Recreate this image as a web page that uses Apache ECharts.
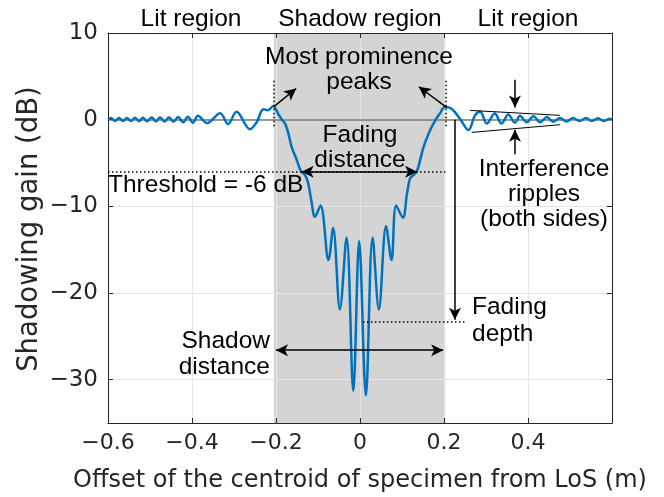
<!DOCTYPE html>
<html><head><meta charset="utf-8">
<script src="https://cdn.jsdelivr.net/npm/echarts@6/dist/echarts.min.js"></script>
<style>html,body{margin:0;padding:0;background:#fff}#c{width:664px;height:497px}</style>
</head><body><div id="c"></div>
<script>
// ---- data ----
const offsetX = [
 -0.600,-0.593,-0.583,-0.574,-0.564,-0.555,-0.545,-0.536,-0.526,-0.517,-0.507,-0.496,-0.486,-0.476,-0.465,-0.455,-0.444,-0.433,-0.421,-0.410,-0.398,-0.386,-0.364,-0.333,-0.314,-0.294,-0.262,-0.246,-0.230,-0.219,-0.207,
 -0.194,-0.186,-0.179,-0.171,-0.163,-0.151,-0.141,-0.131,-0.124,-0.117,-0.107,-0.094,-0.075,-0.064,-0.048,-0.032,-0.016,-0.002,0.014,0.030,0.045,0.062,0.075,0.086,0.102,0.112,0.119,0.127,0.136,0.151,0.167,0.179,0.190,0.202,
 0.218,0.238,0.258,0.274,0.286,0.302,0.321,0.337,0.353,0.369,0.381,0.397,0.413,0.429,0.445,0.460,0.476,0.492,0.507,0.523,0.538,0.552,0.567,0.581,0.595,0.600];
const gainDb = [
 0.05,0.20,-0.15,0.20,-0.15,0.20,-0.16,0.21,-0.17,0.22,-0.18,0.24,-0.20,0.25,-0.22,0.28,-0.25,0.30,-0.30,0.35,-0.35,0.45,-0.40,0.75,-0.50,0.90,-1.10,-0.30,1.20,1.10,1.55,
 0.60,0.00,-0.40,-1.50,-3.10,-4.60,-5.90,-6.40,-7.20,-9.00,-11.2,-9.90,-16.2,-12.5,-21.9,-13.6,-31.3,-14.0,-31.8,-13.6,-21.9,-12.3,-16.2,-9.90,-11.3,-8.50,-6.80,-6.40,-5.90,-3.20,-1.20,-0.10,0.70,1.45,
 1.25,0.10,-1.20,0.50,0.90,-0.45,0.70,-0.45,0.60,-0.35,0.45,-0.30,0.40,-0.30,0.30,-0.25,0.20,-0.20,0.20,-0.15,0.18,-0.15,0.15,-0.15,0.12,0.05];
const xRange = [-0.6, 0.6];
const xStep = 0.2;
const yRange = [-35, 10];
const shadowRegion = [-0.205, 0.203];
const thresholdDb = -6;
const fadingDistance = [-0.139, 0.136];
const shadowDistance = [-0.200, 0.198];
const shadowDistanceY = -26.6;
const fadingDepthX = 0.226;
const fadingDepthY = -23.3;

const chart = echarts.init(document.getElementById('c'));
const AX = '#262626';
const TICKFONT = '"DejaVu Sans", sans-serif';
const ANN = '"Liberation Sans", Arial, sans-serif';
function fmtNum(v, d) {
  if (Math.abs(v) < 1e-9) return '0';
  return (v < 0 ? '\u2212' : '') + Math.abs(v).toFixed(d);
}
const curve = offsetX.map((x, i) => [x, gainDb[i]]);

const blk = {color: '#000', width: 1.5, type: 'solid'};
const dot = {color: '#000', width: 1.5, type: [1.5, 2.5]};
function seg(a, b, style, s0, s1) {
  return [
    {coord: a, symbol: s0 || 'none', symbolSize: [9, 12], lineStyle: Object.assign({}, style)},
    {coord: b, symbol: s1 || 'none', symbolSize: [9, 12]}
  ];
}

function txt(t, x, y, align, size) {
  return {type: 'text', z: 100, style: {text: t, x: x, y: y, fill: '#000',
    font: (size || 24.5) + 'px ' + ANN, align: align || 'center', verticalAlign: 'middle'}};
}
const axLine = () => ({show: true, onZero: false, lineStyle: {color: AX, width: 1}});
const axTick = () => ({show: true, inside: true, length: 5, lineStyle: {color: AX, width: 1}});
const gridOnly = () => ({axisLine: {show: false, onZero: false}, axisTick: {show: false},
  axisLabel: {show: false}, splitLine: {show: true, lineStyle: {color: '#e4e4e4', width: 1}}, z: 0});

chart.setOption({
  animation: false,
  grid: {left: 108, top: 33, width: 504, height: 390},
  xAxis: [{
    type: 'value', min: xRange[0], max: xRange[1], interval: xStep, position: 'bottom', z: 2,
    axisLine: axLine(), axisTick: axTick(),
    axisLabel: {fontSize: 22, color: AX, fontFamily: TICKFONT, margin: 9,
      formatter: v => (Math.abs(v - xRange[1]) < 1e-9 ? '' : fmtNum(v, 1))},
    splitLine: {show: false}
  }, {
    type: 'value', min: xRange[0], max: xRange[1], interval: xStep, position: 'top', z: 2,
    axisLine: axLine(), axisTick: axTick(),
    axisLabel: {show: false}, splitLine: {show: false}
  }, Object.assign({type: 'value', min: xRange[0], max: xRange[1], interval: xStep, position: 'bottom'}, gridOnly())],
  yAxis: [{
    type: 'value', min: yRange[0], max: yRange[1], splitNumber: 5, position: 'left', z: 2,
    axisLine: axLine(), axisTick: axTick(),
    axisLabel: {fontSize: 23, color: AX, fontFamily: TICKFONT, margin: 10,
      formatter: v => (v % 10 !== 0 ? '' : fmtNum(v, 0))},
    splitLine: {show: false}
  }, {
    type: 'value', min: yRange[0], max: yRange[1], splitNumber: 5, position: 'right', z: 2,
    axisLine: axLine(), axisTick: axTick(),
    axisLabel: {show: false}, splitLine: {show: false}
  }, Object.assign({type: 'value', min: yRange[0], max: yRange[1], splitNumber: 5, position: 'left'}, gridOnly())],
  series: [{
    type: 'line', data: [], silent: true,
    markArea: {silent: true, z: -1, itemStyle: {color: '#d4d4d4'},
      data: [[{xAxis: shadowRegion[0]}, {xAxis: shadowRegion[1]}]]},
    markLine: {silent: true, z: 1, symbol: ['none', 'none'], label: {show: false},
      lineStyle: {color: '#7a7a7a', width: 1.5, type: 'solid'},
      data: [{yAxis: 0}]}
  }, {
    type: 'line', data: curve, z: 3, showSymbol: false, smooth: 0.35, silent: true,
    lineStyle: {color: '#0072BD', width: 2.5}
  }, {
    type: 'line', data: [], silent: true,
    markLine: {silent: true, z: 5, label: {show: false}, symbol: ['none', 'none'],
      data: [
        seg([shadowRegion[0], 1.5], [-0.152, 3.6], blk, 'none', 'arrow'),
        seg([0.207, 1.4], [0.140, 3.8], blk, 'none', 'arrow'),
        seg([shadowRegion[0], 4.5], [shadowRegion[0], -0.8], dot),
        seg([shadowRegion[1], 4.5], [shadowRegion[1], -0.8], dot),
        seg([xRange[0], thresholdDb], [shadowRegion[1], thresholdDb], dot),
        seg([fadingDistance[0], thresholdDb], [fadingDistance[1], thresholdDb], blk, 'arrow', 'arrow'),
        seg([shadowDistance[0], shadowDistanceY], [shadowDistance[1], shadowDistanceY], blk, 'arrow', 'arrow'),
        seg([fadingDepthX, 0], [fadingDepthX, fadingDepthY + 0.2], blk, 'none', 'arrow'),
        seg([0.007, fadingDepthY], [0.255, fadingDepthY], dot),
        seg([0.369, 4.6], [0.369, 1.4], blk, 'none', 'arrow'),
        seg([0.369, -4.0], [0.369, -1.15], blk, 'none', 'arrow'),
        seg([0.262, 1.07], [0.476, 0.5], {color: '#000', width: 1, type: 'solid'}),
        seg([0.266, -1.47], [0.476, -0.58], {color: '#000', width: 1, type: 'solid'})
      ]}
  }],
  graphic: [
    txt('Lit region', 191, 19), txt('Shadow region', 360, 19), txt('Lit region', 528, 19),
    txt('Most prominence', 359, 57), txt('peaks', 359, 82),
    txt('Fading', 360, 135), txt('distance', 360, 160),
    txt('Threshold = -6 dB', 108, 185, 'left'),
    txt('Interference', 544, 169), txt('ripples', 544, 194), txt('(both sides)', 544, 219),
    txt('Fading', 472, 307, 'left'), txt('depth', 472, 334, 'left'),
    txt('Shadow', 270, 341, 'right'), txt('distance', 270, 367, 'right'),
    {type: 'text', z: 100, x: 30, y: 229, rotation: Math.PI / 2,
     style: {text: 'Shadowing gain (dB)', x: 0, y: 0, fill: AX, font: '27.5px ' + TICKFONT, align: 'center', verticalAlign: 'middle'}},
    {type: 'text', z: 100, style: {text: 'Offset of the centroid of specimen from LoS (m)', x: 360, y: 481, fill: AX,
     font: '24px ' + TICKFONT, align: 'center', verticalAlign: 'middle'}}
  ]
});
</script></body></html>
